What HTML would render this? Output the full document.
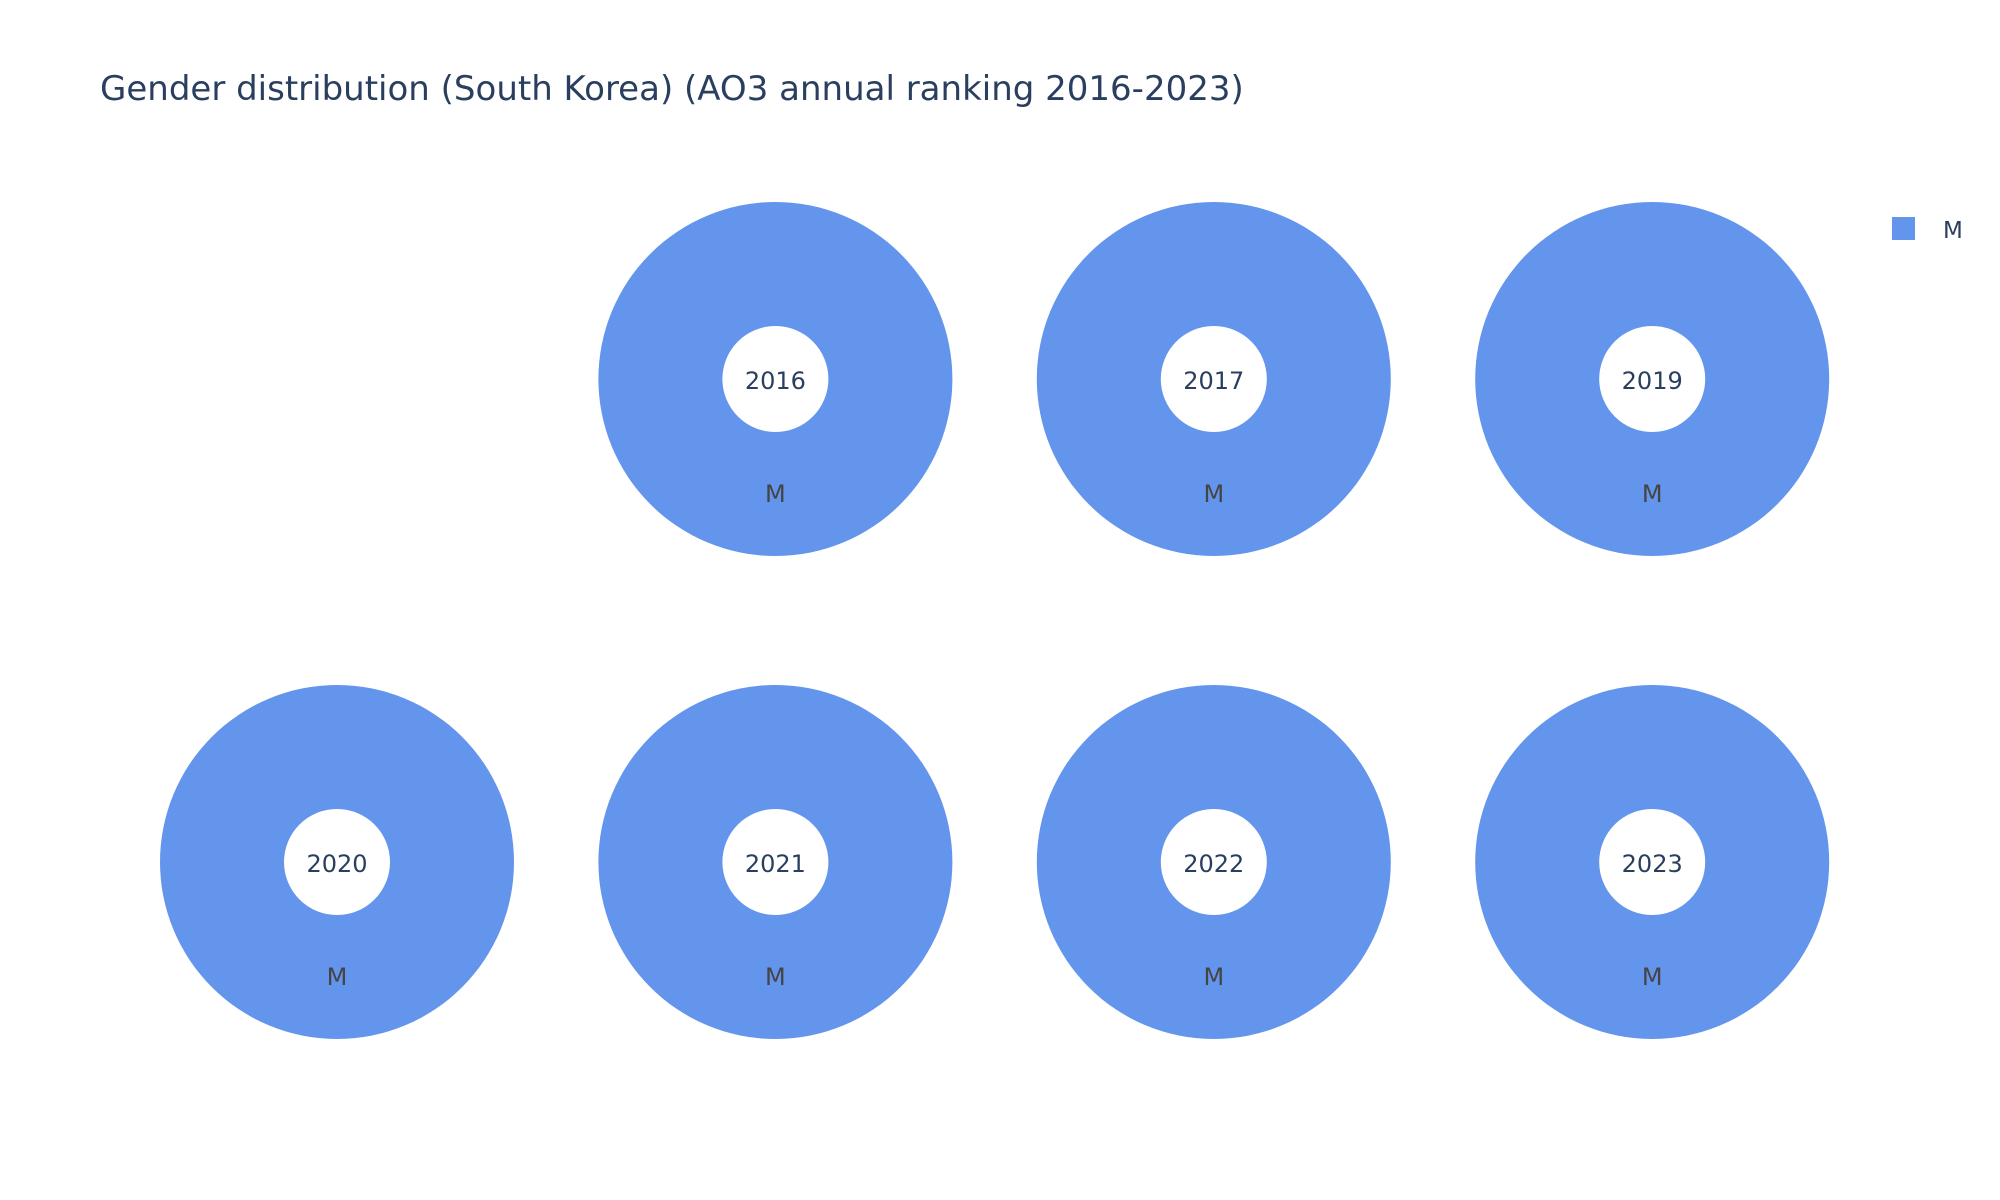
<!DOCTYPE html>
<html><head><meta charset="utf-8"><style>
body{margin:0;background:#fff;}
svg{display:block;font-family:"DejaVu Sans","Liberation Sans",sans-serif;}
</style></head><body>
<svg id="chart" width="2000" height="1200">
<text x="100" y="100" font-size="34" fill="#2a3f5f">Gender distribution (South Korea) (AO3 annual ranking 2016-2023)</text>
<g>
<rect x="1892" y="217" width="23" height="23" fill="#6495ED"></rect>
<text x="1943" y="238" font-size="23" fill="#2a3f5f">M</text>
</g>
<g id="pies"></g>
</svg>
<script>
const years = ["2016","2017","2019","2020","2021","2022","2023"];
const categories = ["M"];
const values = [[1],[1],[1],[1],[1],[1],[1]];
const colors = ["#6495ED"];
const slots = [[0,1],[0,2],[0,3],[1,0],[1,1],[1,2],[1,3]];
const colX = c => 337 + c*438.4;
const rowY = r => 379 + r*483;
const R = 177, H = 53;
const ns = "http://www.w3.org/2000/svg";
const g = document.getElementById('pies');
years.forEach((yr,i)=>{
  const cx = colX(slots[i][1]), cy = rowY(slots[i][0]);
  const vals = values[i];
  const tot = vals.reduce((a,b)=>a+b,0);
  let a0 = -Math.PI/2;
  vals.forEach((v,k)=>{
    const frac = v/tot;
    let el;
    if (frac >= 0.9999) {
      el = document.createElementNS(ns,'path');
      el.setAttribute('d',`M${cx-R},${cy}a${R},${R} 0 1,0 ${2*R},0a${R},${R} 0 1,0 ${-2*R},0Z M${cx-H},${cy}a${H},${H} 0 1,1 ${2*H},0a${H},${H} 0 1,1 ${-2*H},0Z`);
      el.setAttribute('fill-rule','evenodd');
    } else {
      const a1 = a0 + frac*2*Math.PI, lg = frac>0.5?1:0;
      const p=(r,a)=>[cx+r*Math.cos(a),cy+r*Math.sin(a)];
      const [x0,y0]=p(R,a0),[x1,y1]=p(R,a1),[x2,y2]=p(H,a1),[x3,y3]=p(H,a0);
      el = document.createElementNS(ns,'path');
      el.setAttribute('d',`M${x0},${y0}A${R},${R} 0 ${lg},1 ${x1},${y1}L${x2},${y2}A${H},${H} 0 ${lg},0 ${x3},${y3}Z`);
      a0 = a1;
    }
    el.setAttribute('fill',colors[k]);
    
    
    g.appendChild(el);
    const lab = document.createElementNS(ns,'text');
    lab.setAttribute('x',cx); lab.setAttribute('y',cy+123);
    lab.setAttribute('text-anchor','middle'); lab.setAttribute('font-size','24'); lab.setAttribute('fill','#444');
    lab.textContent = categories[k];
    
    
    g.appendChild(lab);
  });
  const t = document.createElementNS(ns,'text');
  t.setAttribute('x',cx); t.setAttribute('y',cy+10);
  t.setAttribute('text-anchor','middle'); t.setAttribute('font-size','24'); t.setAttribute('fill','#2a3f5f');
  t.textContent = yr;
  
  
  g.appendChild(t);
});
</script>
</body></html>
